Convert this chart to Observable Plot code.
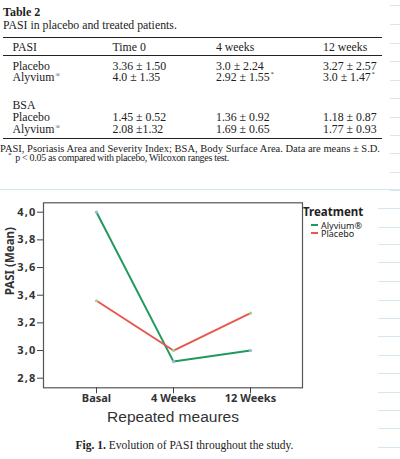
<!DOCTYPE html>
<html>
<head>
<meta charset="utf-8">
<script src="https://cdn.jsdelivr.net/npm/d3@7"></script>
<script src="https://cdn.jsdelivr.net/npm/@observablehq/plot@0.6"></script>
<style>
  html, body { margin: 0; padding: 0; background: #fff; }
  #page { position: relative; width: 400px; height: 459px; overflow: hidden; font-family: "Liberation Serif", "DejaVu Serif", serif; color: #222; }
  .t { position: absolute; white-space: nowrap; line-height: 11px; }
  .rule { position: absolute; left: 3px; width: 379px; background: #222; }
  .deco { position: absolute; height: 1px; background: #d5e6ee; }
  #chart { position: absolute; left: 0; top: 190px; }
  #chart g[aria-label="y-axis tick label"] text { letter-spacing: 1.2px; }
  .leg { position: absolute; font-family: "Noto Sans", sans-serif; color: #222; white-space: nowrap; }
  .dash { display: inline-block; width: 7px; height: 2px; margin-right: 3px; position: relative; top: -3px; }
</style>
</head>
<body>
<div id="page"></div>
<script>
// ---- data ----
const tableTitle = "Table 2";
const tableSubtitle = "PASI in placebo and treated patients.";
const tableHeader = ["PASI", "Time 0", "4 weeks", "12 weeks"];
const pasiPlacebo = ["3.36 ± 1.50", "3.0 ± 2.24", "3.27 ± 2.57"];
const pasiAlyvium = ["4.0 ± 1.35", "2.92 ± 1.55*", "3.0 ± 1.47*"];
const bsaPlacebo = ["1.45 ± 0.52", "1.36 ± 0.92", "1.18 ± 0.87"];
const bsaAlyvium = ["2.08 ±1.32", "1.69 ± 0.65", "1.77 ± 0.93"];
const footnote1 = "PASI, Psoriasis Area and Severity Index; BSA, Body Surface Area. Data are means ± S.D.";
const footnote2 = "p < 0.05 as compared with placebo, Wilcoxon ranges test.";

const weeks = ["Basal", "4 Weeks", "12 Weeks"];
const alyvium = [4.0, 2.92, 3.0];
const placebo = [3.36, 3.0, 3.27];
const groups = ["Alyvium®", "Placebo"];
const yTicks = [2.8, 3.0, 3.2, 3.4, 3.6, 3.8, 4.0];
const xLabel = "Repeated meaures";
const yLabel = "PASI (Mean)";
const legendTitle = "Treatment";
const caption = ["Fig. 1.", " Evolution of PASI throughout the study."];

const green = "#1f9a5c";
const red = "#e8584f";

const page = document.getElementById("page");

// decorative notebook lines at right edge
const decoYs = [5,24,43,61,80,98,117,135,153,172,190,208,227,244,262,281,300,318,336,355,373,392,410,428,447];
decoYs.forEach(y => {
  const d = document.createElement("div");
  d.className = "deco";
  const x0 = y < 200 ? 390 : 378;
  d.style.left = x0 + "px"; d.style.width = (400 - x0) + "px"; d.style.top = y + "px";
  page.appendChild(d);
});
{ const d = document.createElement("div"); d.className = "deco"; d.style.left = "0px"; d.style.width = "400px"; d.style.top = "189px"; page.appendChild(d); }

function txt(html, x, cy, size, extra) {
  const d = document.createElement("div");
  d.className = "t";
  d.innerHTML = html;
  d.style.left = x + "px";
  d.style.top = (cy - 5.5) + "px";
  d.style.fontSize = size + "px";
  if (extra) Object.assign(d.style, extra);
  page.appendChild(d);
  return d;
}
function fit(d, target) {
  const w = d.getBoundingClientRect().width;
  const n = d.textContent.length;
  d.style.letterSpacing = ((target - w) / n) + "px";
}
function rule(y, h) {
  const d = document.createElement("div");
  d.className = "rule";
  d.style.top = y + "px"; d.style.height = h + "px";
  page.appendChild(d);
}
const sup = s => s.replace("*", "<sup style='font-size:6px;vertical-align:5px;margin-left:1px;line-height:0'>*</sup>");
const reg = s => s.replace("®", "<sup style='font-size:6px;vertical-align:4px;margin-left:1px;line-height:0'>®</sup>");

const FS = 11.8;
txt(tableTitle, 3, 12.5, 12, {fontWeight: "bold"});
txt(tableSubtitle, 3, 25, FS);
rule(36.5, 1.5);
const cols = [12.5, 112.5, 216, 323];
tableHeader.forEach((h, i) => txt(h, cols[i], 47, FS));
rule(55, 1);
txt("Placebo", cols[0], 66, FS);
pasiPlacebo.forEach((v, i) => txt(sup(v), cols[i + 1], 66, FS));
txt(reg("Alyvium®"), cols[0], 77, FS);
pasiAlyvium.forEach((v, i) => txt(sup(v), cols[i + 1], 77, FS));
txt("BSA", cols[0], 105, FS);
txt("Placebo", cols[0], 117.5, FS);
bsaPlacebo.forEach((v, i) => txt(v, cols[i + 1], 117.5, FS));
txt(reg("Alyvium®"), cols[0], 129, FS);
bsaAlyvium.forEach((v, i) => txt(v, cols[i + 1], 129, FS));
rule(137.5, 1.5);
const f1 = txt(footnote1, 0, 148.5, 10.5, {lineHeight: "8px", top: "144.5px"});
fit(f1, 380);
const f2 = txt("<sup style='font-size:7px;vertical-align:4px;margin-right:4px;line-height:0'>*</sup>" + footnote2, 8, 157.5, 10, {lineHeight: "8px", top: "153.5px"});
fit(f2, 221);

// ---- chart ----
const data = [
  ...weeks.map((w, i) => ({week: w, pasi: alyvium[i], group: groups[0]})),
  ...weeks.map((w, i) => ({week: w, pasi: placebo[i], group: groups[1]}))
];
const chart = Plot.plot({
  width: 400,
  height: 240,
  marginTop: 12.3,
  marginBottom: 42.7,
  marginLeft: 43,
  marginRight: 98,
  style: {fontFamily: "'Noto Sans', sans-serif", fontWeight: "bold", fontSize: "11px", color: "#333", background: "transparent"},
  x: {type: "point", domain: weeks, padding: 0.67, label: null},
  y: {domain: [2.7306, 4.068], label: null},
  color: {domain: groups, range: [green, red]},
  marks: [
    Plot.frame({stroke: "#555", strokeWidth: 1.2}),
    Plot.axisY({ticks: yTicks, tickSize: 6, tickPadding: 1, tickFormat: d => d.toFixed(1).replace(".", ","), label: null, stroke: "#444", fill: "#333"}),
    Plot.axisX({tickSize: 6, tickPadding: 0, label: null, stroke: "#444", fill: "#333"}),
    Plot.line(data, {x: "week", y: "pasi", z: "group", stroke: "group", strokeWidth: 2}),
    Plot.dot(data.filter(d => d.group === groups[0]), {x: "week", y: "pasi", r: 1.6, fill: "#9cb9dc"}),
    Plot.dot(data.filter(d => d.group === groups[1]), {x: "week", y: "pasi", r: 1.6, fill: "#a9d392"}),
    Plot.text([yLabel], {frameAnchor: "left", dx: -33, rotate: -90, fontSize: 11.5, fontWeight: "bold", fill: "#333"}),
    Plot.text([xLabel], {frameAnchor: "bottom", lineAnchor: "middle", dy: 29.4, fontSize: 15.5, fontWeight: "normal", fontFamily: "'Liberation Sans', Arial, sans-serif", fill: "#333"})
  ]
});
chart.id = "chart";
page.appendChild(chart);

// legend
const lt = document.createElement("div");
lt.className = "leg";
lt.style.left = "303px"; lt.style.top = "204px"; lt.style.fontSize = "11.5px"; lt.style.fontWeight = "bold"; lt.style.lineHeight = "16px";
lt.textContent = legendTitle;
page.appendChild(lt);
const legColors = [green, red];
groups.forEach((g, i) => {
  const d = document.createElement("div");
  d.className = "leg";
  d.style.left = "311px"; d.style.top = (221.7 + i * 8.7) + "px"; d.style.fontSize = "9px"; d.style.lineHeight = "8.7px";
  d.innerHTML = `<span class="dash" style="background:${legColors[i]}"></span>${g}`;
  page.appendChild(d);
});

// caption
const cap = document.createElement("div");
cap.className = "t";
cap.style.left = "0px"; cap.style.width = "369px"; cap.style.textAlign = "center";
cap.style.top = "440px"; cap.style.fontSize = "11.5px";
cap.innerHTML = `<b>${caption[0]}</b>${caption[1]}`;
page.appendChild(cap);
</script>
</body>
</html>
